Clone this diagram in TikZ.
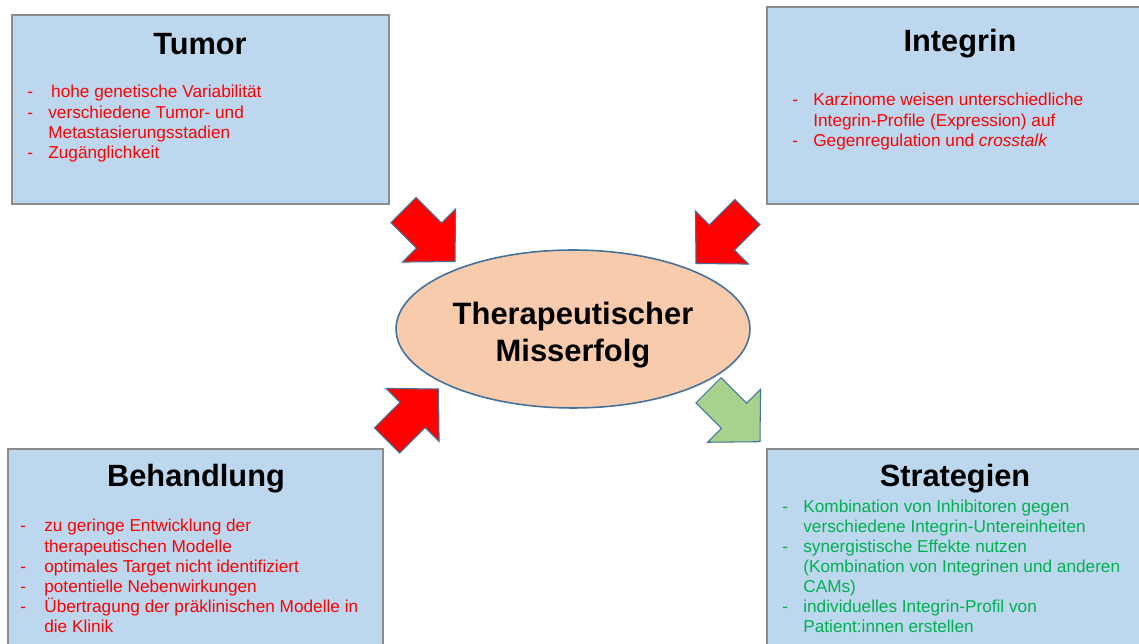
\documentclass[tikz,border=0pt]{standalone}
\usepackage{fontspec}
\setmainfont{Liberation Sans}
\usepackage{xcolor}
\usetikzlibrary{shapes.geometric,positioning}

\definecolor{boxblue}{HTML}{BDD7EE}
\definecolor{boxgray}{HTML}{8C8C8C}
\definecolor{linkblue}{HTML}{41719C}
\definecolor{peach}{HTML}{F8CBAD}
\definecolor{txtred}{HTML}{FF0000}
\definecolor{txtgreen}{HTML}{00B050}
\definecolor{arrgreen}{HTML}{A9D18E}

\begin{document}
\begin{tikzpicture}[x=0.02cm,y=-0.02cm,
   box/.style={draw=boxgray,fill=boxblue,line width=0.9pt,rectangle,inner sep=0pt},
   title/.style={anchor=base,inner sep=0pt,font=\fontsize{17.5}{20}\selectfont\bfseries},
   liste/.style={anchor=base west,inner sep=0pt,font=\fontsize{9.8}{11.4}\selectfont},
   blockarrow/.style={draw=linkblue,line width=0.6pt,line join=miter}]
 \clip (0,0) rectangle (1139,644);
 % four boxes (explicit pixel coordinates)
 \node[box,minimum width=7.54cm,minimum height=3.78cm] (tumor)    at (200.5,109.5) {};
 \node[box,minimum width=7.56cm,minimum height=3.94cm] (integrin) at (956,105.5)   {};
 \node[box,minimum width=7.5cm, minimum height=4.22cm] (behand)   at (195.5,554.5) {};
 \node[box,minimum width=7.56cm,minimum height=4.22cm] (strat)    at (956,554.5)   {};
 % centre
 \node[ellipse,draw=linkblue,fill=peach,line width=0.9pt,minimum width=7.08cm,minimum height=3.16cm]
       (misserfolg) at (573,329) {};
 \node[align=center,inner sep=0pt,yshift=-3.4pt,font=\fontsize{17.6}{21.5}\selectfont\bfseries]
       (misserfolgt) at (misserfolg.center) {Therapeutischer\\Misserfolg};
 % titles
 \node[title] (tumort)  at (200,55)  {Tumor};
 \node[title] (integt)  at (960,52)  {Integrin};
 \node[title] (behandt) at (196,487) {Behandlung};
 \node[title] (stratt)  at (955,487) {Strategien};
 % lists
 \node[liste,text=txtred] (tumorl) at (27,98) {\begin{tabular}[t]{@{}p{0.42cm}@{}l@{}}
   - & \,hohe genetische Variabilität\\
   - & verschiedene Tumor- und\\
     & Metastasierungsstadien\\
   - & Zugänglichkeit
 \end{tabular}};
 \node[liste,text=txtred] (integl) at (792,106) {\begin{tabular}[t]{@{}p{0.42cm}@{}l@{}}
   - & Karzinome weisen unterschiedliche\\
     & Integrin-Profile (Expression) auf\\
   - & Gegenregulation und \textit{crosstalk}
 \end{tabular}};
 \node[liste,text=txtred] (behandl) at (20,532) {\begin{tabular}[t]{@{}p{0.48cm}@{}l@{}}
   - & zu geringe Entwicklung der\\
     & therapeutischen Modelle\\
   - & optimales Target nicht identifiziert\\
   - & potentielle Nebenwirkungen\\
   - & Übertragung der präklinischen Modelle in\\
     & die Klinik
 \end{tabular}};
 \node[liste,text=txtgreen] (stratl) at (782,512.7) {\begin{tabular}[t]{@{}p{0.42cm}@{}l@{}}
   - & Kombination von Inhibitoren gegen\\
     & verschiedene Integrin-Untereinheiten\\
   - & synergistische Effekte nutzen\\
     & (Kombination von Integrinen und anderen\\
     & CAMs)\\
   - & individuelles Integrin-Profil von\\
     & Patient:innen erstellen
 \end{tabular}};
 % block arrows: tip x / tip y / angle / fill
 \foreach \tx/\ty/\ang/\col in {455/261.5/-45/txtred, 696/263.5/-135/txtred,
                                438.5/389/45/txtred, 760/441.7/-45/arrgreen}
   \draw[blockarrow,fill=\col,shift={(\tx,\ty)},rotate=\ang]
     (0,0) -- (-36.7,37.5) -- (-36.7,17.8) -- (-72.8,17.8)
     -- (-72.8,-17.8) -- (-36.7,-17.8) -- (-36.7,-37.5) -- cycle;
\end{tikzpicture}
\end{document}
